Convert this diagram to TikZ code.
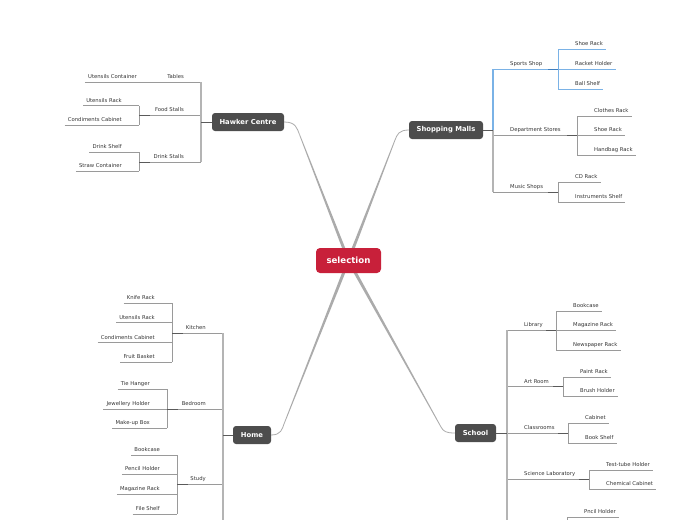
\documentclass[tikz,border=0pt]{standalone}
\usepackage{fontspec}
\setmainfont{DejaVu Sans}
\usetikzlibrary{calc}
\pgfdeclarelayer{bg}
\pgfsetlayers{bg,main}
\definecolor{topicc}{HTML}{4D4D4D}
\definecolor{selc}{HTML}{C8203A}
\definecolor{lnc}{HTML}{9A9A9A}
\definecolor{dkc}{HTML}{5A5A5A}
\definecolor{spc}{HTML}{B4B4B4}
\definecolor{blc}{HTML}{7AB2E6}
\definecolor{bldc}{HTML}{3F7FC0}
\definecolor{txc}{HTML}{333333}
\definecolor{conc}{HTML}{ABABAB}
\tikzset{
  topic/.style={fill=topicc, rounded corners=3pt, text=white, font=\fontsize{6.8}{8}\selectfont\bfseries, minimum height=18, inner sep=0},
  central/.style={fill=selc, rounded corners=4pt, text=white, font=\fontsize{8.6}{10}\selectfont\bfseries, minimum width=65, minimum height=25, inner sep=0},
  leaf/.style={font=\fontsize{5.3}{6}\selectfont, text=txc, inner xsep=3, inner ysep=3, text height=4, text depth=0},
  ln/.style={draw=lnc, line width=0.8},
  bl/.style={draw=blc, line width=0.8},
  dk/.style={draw=dkc, line width=1},
  dkb/.style={draw=bldc, line width=1},
  spine/.style={draw=spc, line width=1.3},
  spineb/.style={draw=blc, line width=1.3},
  conn/.style={draw=conc, line width=0.8},
}
\newcommand{\LeafL}[5]{%
  \coordinate (#1-b) at (#2,#3);
  \node[leaf,anchor=south east] (#1) at ($(#1-b)+(-14,0)$) {#4};
  \draw[#5] (#1.south west) -- (#1-b);}
\newcommand{\LeafR}[5]{%
  \coordinate (#1-b) at (#2,#3);
  \node[leaf,anchor=south west] (#1) at ($(#1-b)+(14,0)$) {#4};
  \draw[#5] (#1-b) -- (#1.south east);}
\newcommand{\BranchL}[6]{%
  \coordinate (#1-j) at (#2,#3);
  \coordinate (#1-b) at (#5,#3);
  \node[leaf,anchor=south east] (#1) at ($(#1-j)+(-14,0)$) {#4};
  \draw[#6] (#1-b) -- (#1-j);}
\newcommand{\BranchR}[6]{%
  \coordinate (#1-j) at (#2,#3);
  \coordinate (#1-b) at (#5,#3);
  \node[leaf,anchor=south west] (#1) at ($(#1-j)+(14,0)$) {#4};
  \draw[#6] (#1-j) -- (#1-b);}
\newcommand{\Conn}[4]{%
  \draw[conn] (#1) .. controls (#2) and (#3) .. (#4);
  \fill[conc] ($(#4)!0.4pt!90:(sel.center)$) -- ($(#4)!0.4pt!-90:(sel.center)$)
     -- ($(sel.center)!1.6pt!90:(#4)$) -- ($(sel.center)!1.6pt!-90:(#4)$) -- cycle;}
\begin{document}
\begin{tikzpicture}[x=1pt,y=-1pt]
\useasboundingbox (0,0) rectangle (697,520);
\clip (0,0) rectangle (697,520);

% central and main topics
\node[central] (sel) at (348.5,260.5) {selection};
\node[topic, minimum width=72] (hc) at (248,122) {Hawker Centre};
\node[topic, minimum width=74] (sm) at (446,130) {Shopping Malls};
\node[topic, minimum width=38] (hm) at (252,435) {Home};
\node[topic, minimum width=41] (sch) at (475.5,433) {School};

% connectors from the centre
\coordinate (hc-k1) at (296,122);
\coordinate (hc-k2) at (297,128.4);
\coordinate (hc-k) at (299.5,134.5);
\coordinate (sm-k1) at (399,130);
\coordinate (sm-k2) at (397.2,134.4);
\coordinate (sm-k) at (395,140);
\coordinate (hm-k1) at (281,435);
\coordinate (hm-k2) at (282.2,429);
\coordinate (hm-k) at (284,424);
\coordinate (sch-k1) at (446,433);
\coordinate (sch-k2) at (443.4,431.4);
\coordinate (sch-k) at (441,427);
\begin{pgfonlayer}{bg}
\Conn{hc.east}{hc-k1}{hc-k2}{hc-k}
\Conn{sm.west}{sm-k1}{sm-k2}{sm-k}
\Conn{hm.east}{hm-k1}{hm-k2}{hm-k}
\Conn{sch.west}{sch-k1}{sch-k2}{sch-k}
\end{pgfonlayer}

% ---------------- Hawker Centre
\coordinate (hc-s) at (201,122);
\BranchL{tb}{201}{82}{Tables}{154}{ln}
\LeafL{uc}{154}{82}{Utensils Container}{ln}
\BranchL{fs}{201}{115}{Food Stalls}{139}{ln}
\LeafL{hur}{139}{105.7}{Utensils Rack}{ln}
\LeafL{hcc}{139}{125}{Condiments Cabinet}{ln}
\draw[ln] (hur-b) -- (hcc-b);
\draw[dk] (fs-b) -- ++(11,0);
\BranchL{ds}{201}{162}{Drink Stalls}{139}{ln}
\LeafL{dsh}{139}{152}{Drink Shelf}{ln}
\LeafL{stc}{139}{171}{Straw Container}{ln}
\draw[ln] (dsh-b) -- (stc-b);
\draw[dk] (ds-b) -- ++(11,0);
\draw[spine] (tb-j) -- (ds-j);
\draw[dk] (hc.west) -- (hc-s);

% ---------------- Shopping Malls
\coordinate (sm-s) at (493,130);
\BranchR{sp}{493}{69}{Sports Shop}{558}{bl}
\LeafR{shr}{558}{49}{Shoe Rack}{bl}
\LeafR{rkh}{558}{69}{Racket Holder}{bl}
\LeafR{bsh}{558}{89}{Ball Shelf}{bl}
\draw[bl] (shr-b) -- (bsh-b);
\draw[dkb] (sp-b) -- ++(-10,0);
\BranchR{dst}{493}{135}{Department Stores}{577}{ln}
\LeafR{clr}{577}{116}{Clothes Rack}{ln}
\LeafR{shr2}{577}{135}{Shoe Rack}{ln}
\LeafR{hbr}{577}{155}{Handbag Rack}{ln}
\draw[ln] (clr-b) -- (hbr-b);
\draw[dk] (dst-b) -- ++(-10,0);
\BranchR{msh}{493}{192}{Music Shops}{558}{ln}
\LeafR{cdr}{558}{182}{CD Rack}{ln}
\LeafR{ins}{558}{202}{Instruments Shelf}{ln}
\draw[ln] (cdr-b) -- (ins-b);
\draw[dk] (msh-b) -- ++(-10,0);
\draw[spineb] (sp-j) -- (sm-s);
\draw[spine] (sm-s) -- (msh-j);
\draw[dk] (sm.east) -- (sm-s);

% ---------------- Home
\coordinate (hm-s) at (223,435);
\coordinate (hm-e) at (223,530);
\BranchL{kt}{223}{333}{Kitchen}{172}{ln}
\LeafL{knr}{172}{303}{Knife Rack}{ln}
\LeafL{kur}{172}{322.7}{Utensils Rack}{ln}
\LeafL{kcc}{172}{342.3}{Condiments Cabinet}{ln}
\LeafL{frb}{172}{362}{Fruit Basket}{ln}
\draw[ln] (knr-b) -- (frb-b);
\draw[dk] (kt-b) -- ++(11,0);
\BranchL{bd}{223}{409}{Bedroom}{167}{ln}
\LeafL{tih}{167}{389}{Tie Hanger}{ln}
\LeafL{jwh}{167}{409}{Jewellery Holder}{ln}
\LeafL{mub}{167}{428}{Make-up Box}{ln}
\draw[ln] (tih-b) -- (mub-b);
\draw[dk] (bd-b) -- ++(11,0);
\BranchL{st}{223}{484}{Study}{177}{ln}
\LeafL{hbc}{177}{455}{Bookcase}{ln}
\LeafL{pch}{177}{474}{Pencil Holder}{ln}
\LeafL{hmr}{177}{494}{Magazine Rack}{ln}
\LeafL{fsh}{177}{514}{File Shelf}{ln}
\draw[ln] (hbc-b) -- (fsh-b);
\draw[dk] (st-b) -- ++(11,0);
\draw[spine] (kt-j) -- (hm-e);
\draw[dk] (hm.west) -- (hm-s);

% ---------------- School
\coordinate (sch-s) at (507,433);
\coordinate (sch-e) at (507,530);
\BranchR{lib}{507}{330}{Library}{556}{ln}
\LeafR{sbc}{556}{311}{Bookcase}{ln}
\LeafR{smr}{556}{330}{Magazine Rack}{ln}
\LeafR{snr}{556}{350}{Newspaper Rack}{ln}
\draw[ln] (sbc-b) -- (snr-b);
\draw[dk] (lib-b) -- ++(-10,0);
\BranchR{arr}{507}{386.5}{Art Room}{563}{ln}
\LeafR{ptr}{563}{377}{Paint Rack}{ln}
\LeafR{brh}{563}{396}{Brush Holder}{ln}
\draw[ln] (ptr-b) -- (brh-b);
\draw[dk] (arr-b) -- ++(-10,0);
\BranchR{clm}{507}{433}{Classrooms}{568}{ln}
\LeafR{cab}{568}{423}{Cabinet}{ln}
\LeafR{bks}{568}{443}{Book Shelf}{ln}
\draw[ln] (cab-b) -- (bks-b);
\draw[dk] (clm-b) -- ++(-10,0);
\BranchR{slb}{507}{479}{Science Laboratory}{589}{ln}
\LeafR{tth}{589}{470}{Test-tube Holder}{ln}
\LeafR{chc}{589}{489}{Chemical Cabinet}{ln}
\draw[ln] (tth-b) -- (chc-b);
\draw[dk] (slb-b) -- ++(-10,0);
\LeafR{pnh}{567}{517}{Pncil Holder}{ln}
\coordinate (pnh-e) at (567,530);
\draw[ln] (pnh-b) -- (pnh-e);
\draw[spine] (lib-j) -- (sch-e);
\draw[dk] (sch.east) -- (sch-s);
\end{tikzpicture}
\end{document}
